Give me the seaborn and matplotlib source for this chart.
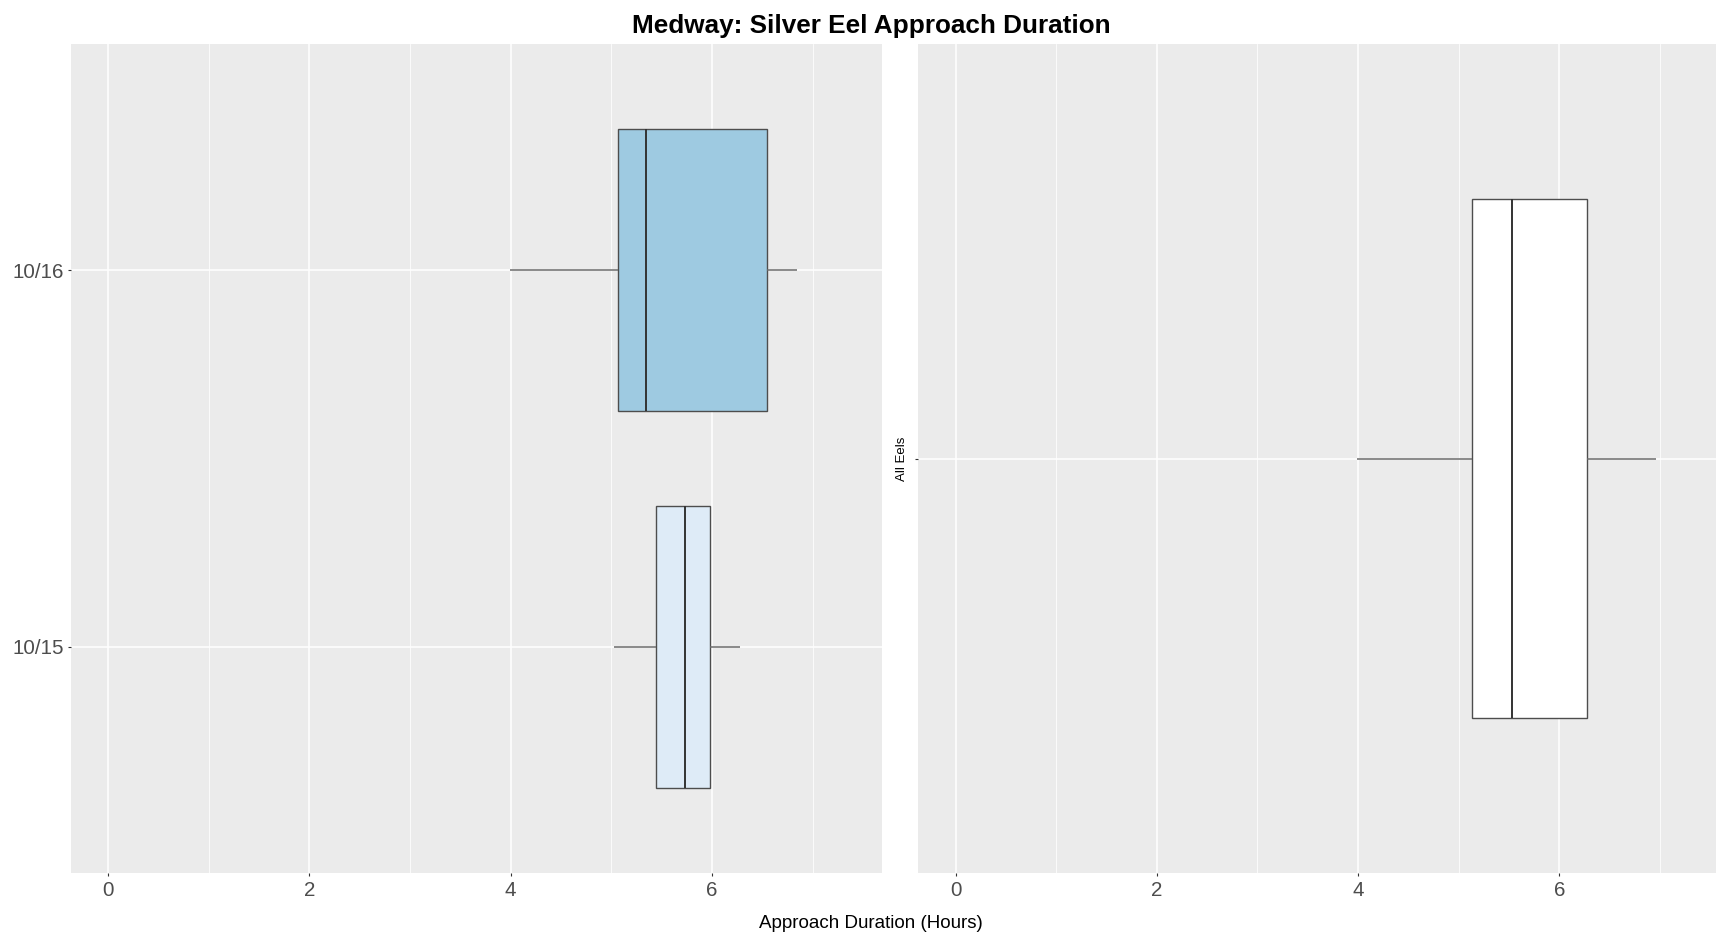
import matplotlib
matplotlib.use("Agg")
import matplotlib.pyplot as plt
from matplotlib.ticker import MultipleLocator
import numpy as np
import pandas as pd
import seaborn as sns

# ---- data ----
dates = ["10/16", "10/15"]
duration_1016 = [3.99, 5.07, 5.34, 6.55, 6.84]
duration_1015 = [5.03, 5.44, 5.73, 5.98, 6.28]
all_eels = [3.99, 5.13, 5.53, 6.28, 6.96]
date_colors = {"10/16": "#9ECAE1", "10/15": "#DEEBF7"}
x_ticks = [0, 2, 4, 6]

df_left = pd.DataFrame({
    "Date": ["10/16"] * len(duration_1016) + ["10/15"] * len(duration_1015),
    "Hours": duration_1016 + duration_1015,
})
df_right = pd.DataFrame({"Group": ["All Eels"] * len(all_eels), "Hours": all_eels})

plt.rcParams["font.family"] = ["Liberation Sans", "DejaVu Sans"]

W, H = 1716, 932
fig = plt.figure(figsize=(W / 100, H / 100), dpi=100)
fig.patch.set_facecolor("white")
ax1 = fig.add_axes([71 / W, 59 / H, 811 / W, 829 / H])
ax2 = fig.add_axes([918 / W, 59 / H, 798 / W, 829 / H])

common = dict(orient="h", width=0.75, whis=(0, 100), showcaps=False,
              showfliers=False, linewidth=1.0, linecolor="#4d4d4d", saturation=1,
              medianprops=dict(color="#333333", linewidth=1.4),
              whiskerprops=dict(color="#6b6b6b", linewidth=1.1))

sns.boxplot(data=df_left, x="Hours", y="Date", order=dates, hue="Date",
            hue_order=dates, palette=date_colors, legend=False, ax=ax1, **common)
sns.boxplot(data=df_right, x="Hours", y="Group", color="white", ax=ax2, **common)

def style(ax, xlim, ylim):
    ax.set_facecolor("#EBEBEB")
    for s in ax.spines.values():
        s.set_visible(False)
    ax.set_xlim(*xlim)
    ax.set_ylim(*ylim)
    ax.set_xticks(x_ticks)
    ax.set_xticklabels([str(t) for t in x_ticks])
    ax.xaxis.set_minor_locator(MultipleLocator(1))
    ax.set_axisbelow(True)
    ax.grid(True, which="major", axis="both", color="white", linewidth=1.1)
    ax.grid(True, which="minor", axis="x", color="white", linewidth=0.55)
    ax.tick_params(axis="both", which="major", length=2.5, width=0.8, color="#333333",
                   labelcolor="#4d4d4d", labelsize=14.8, pad=2.5)
    ax.tick_params(axis="x", which="major", pad=3.5)
    ax.tick_params(axis="both", which="minor", length=0)
    ax.set_xlabel("")

style(ax1, (-0.366, 7.687), (1.6, -0.6))
ax1.set_ylabel("")

style(ax2, (-0.375, 7.558), (0.6, -0.6))
ax2.set_yticks([0])
ax2.set_yticklabels([""])
ax2.set_ylabel("All Eels", fontsize=9.5, color="black")
ax2.yaxis.set_label_coords(-0.0125, 0.5)

fig.text(871 / W, 1 - 33.5 / H, "Medway: Silver Eel Approach Duration",
         ha="center", va="baseline", fontsize=18.8, fontweight="bold", color="black")
fig.text(871 / W, 1 - 927.5 / H, "Approach Duration (Hours)",
         ha="center", va="baseline", fontsize=13.5, color="black")

fig.savefig("out.png", dpi=100, facecolor="white")
